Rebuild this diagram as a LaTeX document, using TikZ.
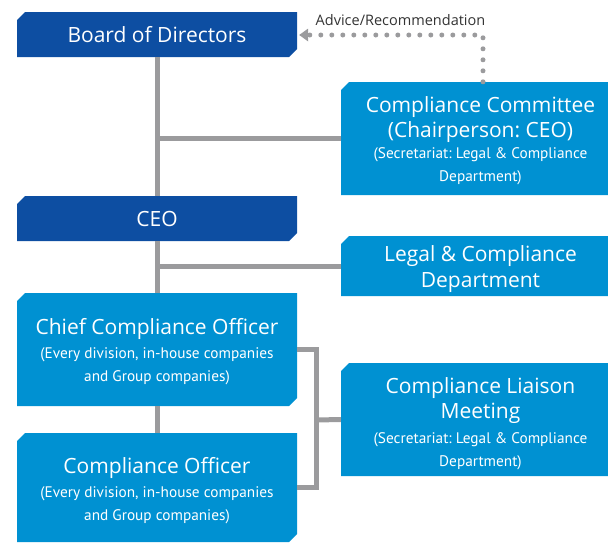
\documentclass[tikz,border=0pt]{standalone}
\usepackage{fontspec}
\setmainfont{Open Sans}
\newfontfamily\narrowf{PT Sans}
\usetikzlibrary{arrows.meta}
\definecolor{dkblue}{HTML}{0D4EA2}
\definecolor{ltblue}{HTML}{0091D2}
\definecolor{linegray}{HTML}{9B9B9D}
\definecolor{labelgray}{HTML}{333333}
\newcommand{\titlef}{\fontsize{21}{25.5}\selectfont\spaceskip=\fontdimen2\font\xspaceskip=\fontdimen2\font\relax}
\newcommand{\subf}{\narrowf\fontsize{15.3}{23}\selectfont\spaceskip=\fontdimen2\font\xspaceskip=\fontdimen2\font\relax}
\tikzset{
  cutbox/.style={rectangle, inner sep=0pt,
    path picture={\fill[#1] ([xshift=8pt]path picture bounding box.north west)
      -- (path picture bounding box.north east)
      -- ([yshift=8pt]path picture bounding box.south east)
      -- ([xshift=-8pt]path picture bounding box.south east)
      -- (path picture bounding box.south west)
      -- ([yshift=-8pt]path picture bounding box.north west) -- cycle;}},
  leftbox/.style={cutbox=#1, minimum width=280pt},
  rightbox/.style={cutbox=ltblue, minimum width=279pt},
  boxtext/.style={inner sep=0pt, text=white, align=center, text width=272pt},
  conn/.style={draw=linegray, line width=5pt},
  dotconn/.style={draw=linegray, line width=5pt, line cap=round,
    dash pattern=on 0pt off 11pt},
}
\begin{document}
\begin{tikzpicture}[x=1pt,y=1pt]
\useasboundingbox (0,0) rectangle (608,-542);
% boxes
\node[leftbox=dkblue, minimum height=45pt] (board) at (157,-34.5) {};
\node[leftbox=dkblue, minimum height=45pt] (ceo) at (157,-218.5) {};
\node[leftbox=ltblue, minimum height=113pt] (cco) at (157,-349.5) {};
\node[leftbox=ltblue, minimum height=109pt] (co) at (157,-487.5) {};
\node[rightbox, minimum height=113pt] (comm) at (480.5,-138.5) {};
\node[rightbox, minimum height=60pt] (legal) at (480.5,-266) {};
\node[rightbox, minimum height=113pt] (liaison) at (480.5,-419.5) {};
% box texts
\node[boxtext] (board-t) at (board.center) {\titlef Board of Directors\par};
\node[boxtext] (ceo-t) at ([yshift=-0.5pt]ceo.center) {\titlef CEO\par};
\node[boxtext] (cco-t) at ([yshift=-2pt]cco.center)
  {{\titlef Chief Compliance Officer\par}\vspace{1pt}{\subf (Every division, in-house companies\\and Group companies)\par}};
\node[boxtext] (co-t) at ([yshift=-3.5pt]co.center)
  {{\titlef Compliance Officer\par}\vspace{1pt}{\subf (Every division, in-house companies\\and Group companies)\par}};
\node[boxtext] (comm-t) at ([yshift=-2pt]comm.center)
  {{\titlef Compliance Committee\\(Chairperson: CEO)\par}\vspace{-2.3pt}{\subf (Secretariat: Legal \& Compliance\\Department)\par}};
\node[boxtext] (legal-t) at ([yshift=-3pt]legal.center)
  {{\titlef Legal \& Compliance\\Department\par}};
\node[boxtext] (liaison-t) at ([yshift=-4pt]liaison.center)
  {{\titlef Compliance Liaison\\Meeting\par}\vspace{2pt}{\subf (Secretariat: Legal \& Compliance\\Department)\par}};
% helper coordinates
\coordinate (jx) at (316,-420);
\coordinate (dv) at (483,-35);
% connectors
\draw[conn] (board.south) -- (ceo.north);
\draw[conn] (ceo.south) -- (cco.north);
\draw[conn] (cco.south) -- (co.north);
\draw[conn] (comm.west) -- (comm.west -| board.south);
\draw[conn] (legal.west) -- (legal.west -| ceo.south);
\draw[conn, line join=miter] (cco.east) -| (jx) |- (co.east);
\draw[conn] (liaison.west) -- (jx);
% dotted advice line
\draw[dotconn] (comm.north -| dv) -- (dv) -- ([xshift=8pt]board.east |- dv);
\draw[draw=none, fill=linegray] ([xshift=2pt]board.east |- dv) -- ++(9,6.5) -- ++(0,-13) -- cycle;
\node[text=labelgray, font=\fontsize{14.5}{16}\selectfont, inner sep=0pt, anchor=base] (advice) at (400.5,-25) {Advice/Recommendation};
\end{tikzpicture}
\end{document}
